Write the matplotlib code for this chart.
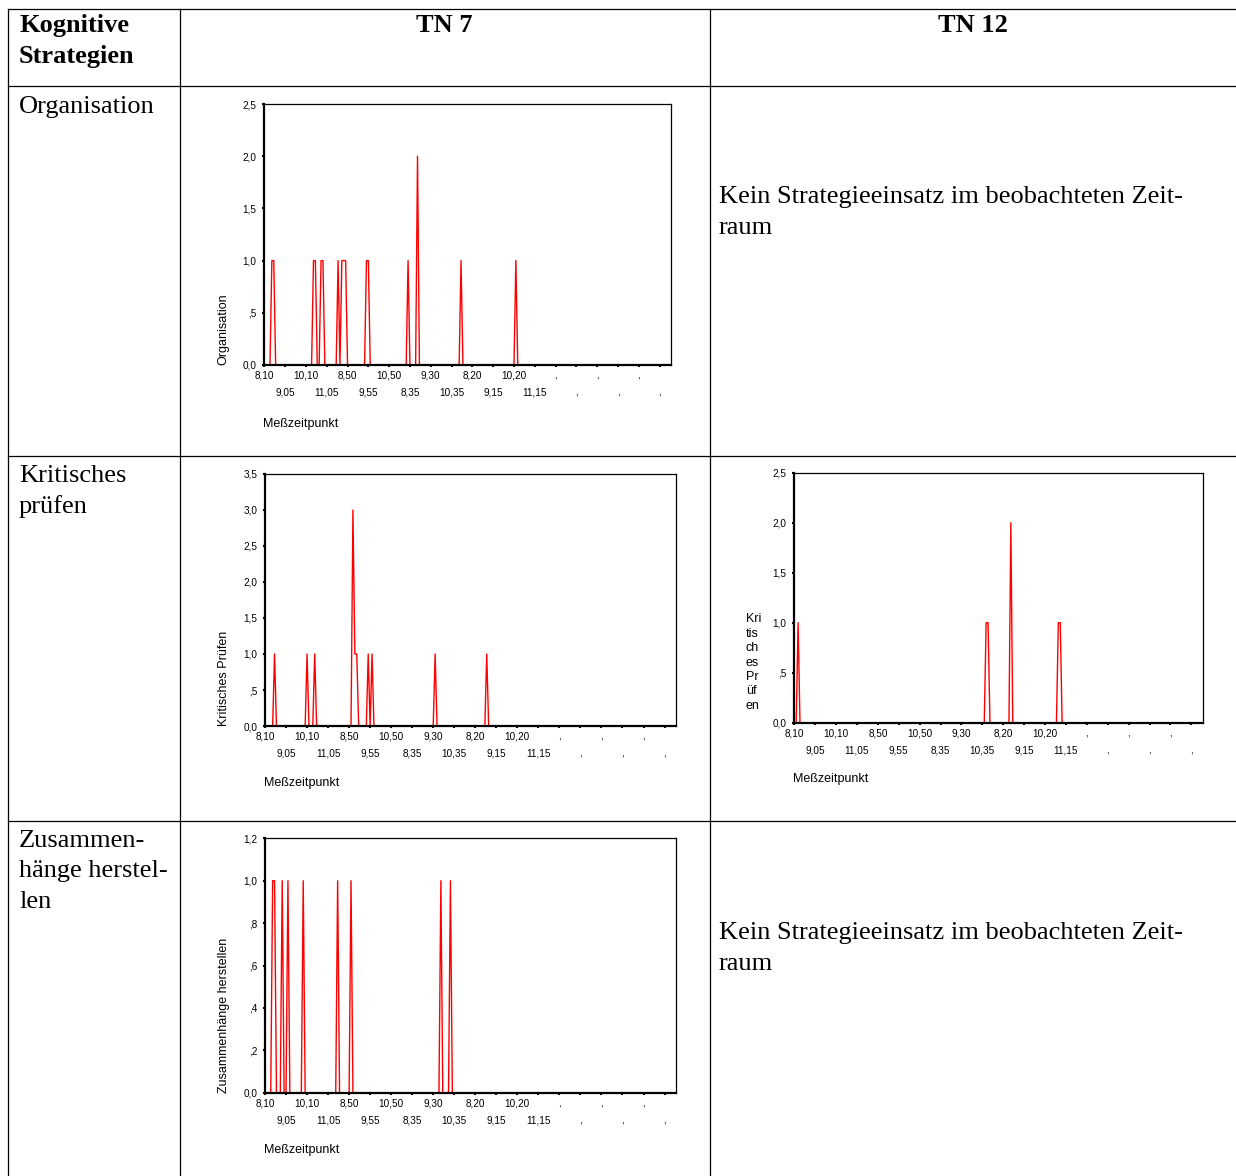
import numpy as np
import matplotlib.pyplot as plt

# Meßzeitpunkte (5-Minuten-Raster), nur jede 11. Kategorie beschriftet
zeit_labels = ['8,10', '9,05', '10,10', '11,05', '8,50', '9,55', '10,50',
               '8,35', '9,30', '10,35', '8,20', '9,15', '10,20', '11,15',
               ',', ',', ',', ',', ',', ',']
n_kategorien = 216
n_messungen = 144
label_abstand = 11

# Kategorien mit Strategieeinsatz (Index) und Häufigkeit
tn7_org_idx = [4, 5, 26, 27, 30, 31, 39, 41, 42, 43, 54, 55, 76, 81, 104, 133]
tn7_org_val = [1, 1, 1, 1, 1, 1, 1, 1, 1, 1, 1, 1, 1, 2, 1, 1]

tn7_krit_idx = [5, 22, 26, 46, 47, 48, 54, 56, 89, 116]
tn7_krit_val = [1, 1, 1, 3, 1, 1, 1, 1, 1, 1]

tn12_krit_idx = [2, 101, 102, 114, 139, 140]
tn12_krit_val = [1, 1, 1, 2, 1, 1]

tn7_zus_idx = [4, 5, 9, 12, 20, 38, 45, 92, 97]
tn7_zus_val = [1, 1, 1, 1, 1, 1, 1, 1, 1]

W, H = 1236, 1176
fig = plt.figure(figsize=(W / 100, H / 100), dpi=100)

bg = fig.add_axes([0, 0, 1, 1], zorder=0)
bg.set_xlim(0, W)
bg.set_ylim(H, 0)
bg.axis('off')

# Tabellengitter
for y in [8.5, 86, 456, 821]:
    bg.plot([8, W], [y, y], color='black', lw=0.9)
for x in [8, 179.5, 709.5]:
    bg.plot([x, x], [8.5, H], color='black', lw=0.9)

serif = 'Liberation Serif'
bg.text(19, 32, 'Kognitive', family=serif, weight='bold', fontsize=19, va='baseline')
bg.text(19, 63, 'Strategien', family=serif, weight='bold', fontsize=19, va='baseline')
bg.text(444, 32, 'TN 7', family=serif, weight='bold', fontsize=19, va='baseline', ha='center')
bg.text(973, 32, 'TN 12', family=serif, weight='bold', fontsize=19, va='baseline', ha='center')

zeilen = [(113, ['Organisation']),
          (482, ['Kritisches', 'prüfen']),
          (847, ['Zusammen-', 'hänge herstel-', 'len'])]
for y0, lines in zeilen:
    for i, t in enumerate(lines):
        bg.text(19, y0 + i * 30.5, t, family=serif, fontsize=19, va='baseline')

for y0 in [203, 939]:
    bg.text(719, y0, 'Kein Strategieeinsatz im beobachteten Zeit-', family=serif,
            fontsize=19, va='baseline')
    bg.text(719, y0 + 31, 'raum', family=serif, fontsize=19, va='baseline')


def ylab(v):
    if v == 0:
        return '0,0'
    s = f'{v:.1f}'.replace('.', ',')
    return s[1:] if s.startswith('0') else s


def chart(box, idx, vals, ymax, ystep, ylabel, xlabel_y):
    left, top, right, bottom = box
    ax = fig.add_axes([left / W, 1 - bottom / H, (right - left) / W, (bottom - top) / H],
                      zorder=2)
    werte = np.full(n_kategorien, np.nan)
    werte[:n_messungen] = 0
    werte[idx] = vals
    ax.plot(np.arange(n_kategorien), werte, color='red', lw=1.0)
    ax.set_xlim(0, n_kategorien - 1)
    ax.set_ylim(0, ymax)

    yt = np.arange(0, ymax + ystep / 2, ystep)
    ax.set_yticks(yt, [ylab(round(v, 1)) for v in yt])
    pos = np.arange(len(zeit_labels)) * label_abstand
    ax.set_xticks(pos[::2], zeit_labels[::2])
    ax.set_xticks(pos[1::2], zeit_labels[1::2], minor=True)
    ax.tick_params(axis='both', which='both', direction='out', length=1.6, width=1.5,
                   labelsize=7.2, colors='black')
    ax.tick_params(axis='y', pad=4)
    ax.tick_params(axis='x', which='major', pad=2.3)
    ax.tick_params(axis='x', which='minor', pad=14.5)
    for lbl in ax.get_xticklabels(which='both') + ax.get_yticklabels():
        lbl.set_family('Liberation Sans')
    for s in ['left', 'bottom']:
        ax.spines[s].set_linewidth(1.6)
    for s in ['top', 'right']:
        ax.spines[s].set_linewidth(0.9)

    bg.text(left - 1, xlabel_y, 'Meßzeitpunkt', family='Liberation Sans', fontsize=9,
            va='center', ha='left')
    if isinstance(ylabel, list):
        for i, t in enumerate(ylabel):
            bg.text(745.7, 619.3 + i * 14.4, t, family='Liberation Sans', fontsize=9,
                    va='center', ha='left')
    else:
        bg.text(left - 41, bottom, ylabel, family='Liberation Sans', fontsize=9,
                rotation=90, va='bottom', ha='center')
    return ax


chart((264.3, 104, 671, 365), tn7_org_idx, tn7_org_val, 2.5, 0.5, 'Organisation', 424)
chart((265, 474, 676, 726), tn7_krit_idx, tn7_krit_val, 3.5, 0.5, 'Kritisches Prüfen', 783)
chart((794.3, 472.7, 1202.7, 722.7), tn12_krit_idx, tn12_krit_val, 2.5, 0.5,
      ['Kri', 'tis', 'ch', 'es', 'Pr', 'üf', 'en'], 779)
chart((265, 838.3, 676, 1092.7), tn7_zus_idx, tn7_zus_val, 1.2, 0.2,
      'Zusammenhänge herstellen', 1150)

fig.savefig('out.png', dpi=100)
